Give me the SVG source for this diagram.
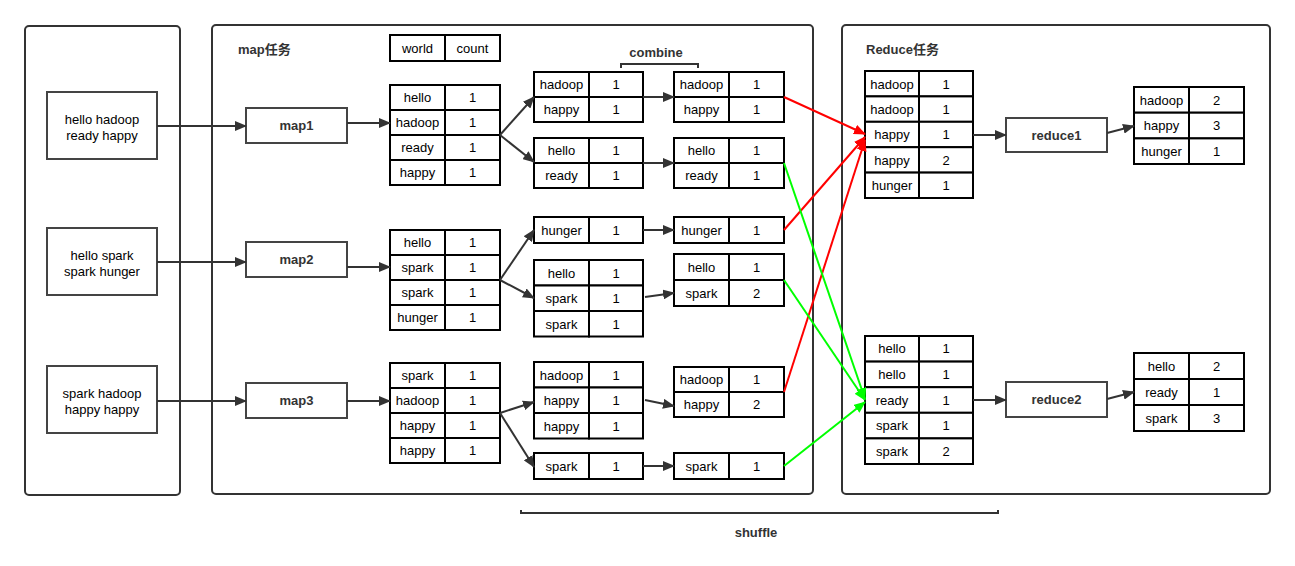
<svg xmlns="http://www.w3.org/2000/svg" width="1295" height="566" viewBox="0 0 1295 566">
<style>
text{font-family:"Liberation Sans","Noto Sans CJK SC",Arial,sans-serif;font-size:13px;fill:#000;text-anchor:middle}
.title{font-weight:bold;fill:#333;text-anchor:start}
.lbl{font-weight:bold;fill:#333}
.cont{fill:#fff;stroke:#333;stroke-width:2}
.box{fill:#fff;stroke:#444;stroke-width:2}
.cell{fill:#fff;stroke:#000;stroke-width:2}
.conn{fill:none;stroke:#333;stroke-width:2}
.red{fill:none;stroke:#f00;stroke-width:2}
.green{fill:none;stroke:#0f0;stroke-width:2}
</style>
<defs>
<marker id="ah" markerUnits="userSpaceOnUse" markerWidth="12" markerHeight="10" refX="11" refY="5" orient="auto"><path d="M0,0 L12,5 L0,10 z" fill="#333"/></marker>
<marker id="ahr" markerUnits="userSpaceOnUse" markerWidth="12" markerHeight="10" refX="11" refY="5" orient="auto"><path d="M0,0 L12,5 L0,10 z" fill="#f00"/></marker>
<marker id="ahg" markerUnits="userSpaceOnUse" markerWidth="12" markerHeight="10" refX="11" refY="5" orient="auto"><path d="M0,0 L12,5 L0,10 z" fill="#0f0"/></marker>
</defs>
<rect width="1295" height="566" fill="#fff"/>

<g id="containers">
<rect class="cont" x="25" y="26" width="155" height="469" rx="4"/>
<rect class="cont" x="212" y="25" width="601" height="469" rx="4"/>
<rect class="cont" x="842" y="25" width="428" height="469" rx="4"/>
<text class="title" x="238" y="54">map任务</text>
<text class="title" x="866" y="54">Reduce任务</text>
</g>

<g id="inputs">
<g id="in1"><rect class="box" x="47" y="92" width="110" height="67"/><text x="102" y="124">hello hadoop</text><text x="102" y="140">ready happy</text></g>
<g id="in2"><rect class="box" x="47" y="228" width="110" height="67"/><text x="102" y="260">hello spark</text><text x="102" y="276">spark hunger</text></g>
<g id="in3"><rect class="box" x="47" y="366" width="110" height="67"/><text x="102" y="398">spark hadoop</text><text x="102" y="414">happy happy</text></g>
</g>

<g id="maps">
<g id="map1"><rect class="box" x="246" y="108" width="101" height="35"/><text class="lbl" x="296.5" y="130">map1</text></g>
<g id="map2"><rect class="box" x="246" y="242" width="101" height="35"/><text class="lbl" x="296.5" y="264">map2</text></g>
<g id="map3"><rect class="box" x="246" y="383" width="101" height="35"/><text class="lbl" x="296.5" y="405">map3</text></g>
</g>

<g id="header">
<rect class="cell" x="390" y="35" width="55" height="26"/><rect class="cell" x="445" y="35" width="55" height="26"/>
<text x="417.5" y="52.5">world</text><text x="472.5" y="52.5">count</text>
</g>

<g id="t1">
<rect class="cell" x="390" y="85" width="55" height="25"/><rect class="cell" x="445" y="85" width="55" height="25"/>
<rect class="cell" x="390" y="110" width="55" height="25"/><rect class="cell" x="445" y="110" width="55" height="25"/>
<rect class="cell" x="390" y="135" width="55" height="25"/><rect class="cell" x="445" y="135" width="55" height="25"/>
<rect class="cell" x="390" y="160" width="55" height="25"/><rect class="cell" x="445" y="160" width="55" height="25"/>
<text x="417.5" y="102">hello</text><text x="472.5" y="102">1</text>
<text x="417.5" y="127">hadoop</text><text x="472.5" y="127">1</text>
<text x="417.5" y="152">ready</text><text x="472.5" y="152">1</text>
<text x="417.5" y="177">happy</text><text x="472.5" y="177">1</text>
</g>
<g id="t2">
<rect class="cell" x="390" y="230" width="55" height="25"/><rect class="cell" x="445" y="230" width="55" height="25"/>
<rect class="cell" x="390" y="255" width="55" height="25"/><rect class="cell" x="445" y="255" width="55" height="25"/>
<rect class="cell" x="390" y="280" width="55" height="25"/><rect class="cell" x="445" y="280" width="55" height="25"/>
<rect class="cell" x="390" y="305" width="55" height="25"/><rect class="cell" x="445" y="305" width="55" height="25"/>
<text x="417.5" y="247">hello</text><text x="472.5" y="247">1</text>
<text x="417.5" y="272">spark</text><text x="472.5" y="272">1</text>
<text x="417.5" y="297">spark</text><text x="472.5" y="297">1</text>
<text x="417.5" y="322">hunger</text><text x="472.5" y="322">1</text>
</g>
<g id="t3">
<rect class="cell" x="390" y="363" width="55" height="25"/><rect class="cell" x="445" y="363" width="55" height="25"/>
<rect class="cell" x="390" y="388" width="55" height="25"/><rect class="cell" x="445" y="388" width="55" height="25"/>
<rect class="cell" x="390" y="413" width="55" height="25"/><rect class="cell" x="445" y="413" width="55" height="25"/>
<rect class="cell" x="390" y="438" width="55" height="25"/><rect class="cell" x="445" y="438" width="55" height="25"/>
<text x="417.5" y="380">spark</text><text x="472.5" y="380">1</text>
<text x="417.5" y="405">hadoop</text><text x="472.5" y="405">1</text>
<text x="417.5" y="430">happy</text><text x="472.5" y="430">1</text>
<text x="417.5" y="455">happy</text><text x="472.5" y="455">1</text>
</g>

<g id="s1a">
<rect class="cell" x="534" y="72" width="55" height="25"/><rect class="cell" x="589" y="72" width="54" height="25"/>
<rect class="cell" x="534" y="97" width="55" height="25"/><rect class="cell" x="589" y="97" width="54" height="25"/>
<text x="561.5" y="89">hadoop</text><text x="616" y="89">1</text>
<text x="561.5" y="114">happy</text><text x="616" y="114">1</text>
</g>
<g id="s1b">
<rect class="cell" x="534" y="138" width="55" height="25"/><rect class="cell" x="589" y="138" width="54" height="25"/>
<rect class="cell" x="534" y="163" width="55" height="25"/><rect class="cell" x="589" y="163" width="54" height="25"/>
<text x="561.5" y="155">hello</text><text x="616" y="155">1</text>
<text x="561.5" y="180">ready</text><text x="616" y="180">1</text>
</g>
<g id="s2a">
<rect class="cell" x="534" y="217" width="55" height="26"/><rect class="cell" x="589" y="217" width="54" height="26"/>
<text x="561.5" y="234.5">hunger</text><text x="616" y="234.5">1</text>
</g>
<g id="s2b">
<rect class="cell" x="534" y="260" width="55" height="25.5"/><rect class="cell" x="589" y="260" width="54" height="25.5"/>
<rect class="cell" x="534" y="285.5" width="55" height="25.5"/><rect class="cell" x="589" y="285.5" width="54" height="25.5"/>
<rect class="cell" x="534" y="311" width="55" height="25.5"/><rect class="cell" x="589" y="311" width="54" height="25.5"/>
<text x="561.5" y="277.5">hello</text><text x="616" y="277.5">1</text>
<text x="561.5" y="303">spark</text><text x="616" y="303">1</text>
<text x="561.5" y="328.5">spark</text><text x="616" y="328.5">1</text>
</g>
<g id="s3a">
<rect class="cell" x="534" y="362" width="55" height="25.5"/><rect class="cell" x="589" y="362" width="54" height="25.5"/>
<rect class="cell" x="534" y="387.5" width="55" height="25.5"/><rect class="cell" x="589" y="387.5" width="54" height="25.5"/>
<rect class="cell" x="534" y="413" width="55" height="25.5"/><rect class="cell" x="589" y="413" width="54" height="25.5"/>
<text x="561.5" y="379.5">hadoop</text><text x="616" y="379.5">1</text>
<text x="561.5" y="405">happy</text><text x="616" y="405">1</text>
<text x="561.5" y="430.5">happy</text><text x="616" y="430.5">1</text>
</g>
<g id="s3b">
<rect class="cell" x="534" y="453" width="55" height="26"/><rect class="cell" x="589" y="453" width="54" height="26"/>
<text x="561.5" y="470.5">spark</text><text x="616" y="470.5">1</text>
</g>

<g id="combine-label">
<text class="lbl" x="656" y="57">combine</text>
<path class="conn" d="M621,68 V64 H698 V68"/>
</g>

<g id="c1a">
<rect class="cell" x="674" y="72" width="55" height="25"/><rect class="cell" x="729" y="72" width="55" height="25"/>
<rect class="cell" x="674" y="97" width="55" height="25"/><rect class="cell" x="729" y="97" width="55" height="25"/>
<text x="701.5" y="89">hadoop</text><text x="756.5" y="89">1</text>
<text x="701.5" y="114">happy</text><text x="756.5" y="114">1</text>
</g>
<g id="c1b">
<rect class="cell" x="674" y="138" width="55" height="25"/><rect class="cell" x="729" y="138" width="55" height="25"/>
<rect class="cell" x="674" y="163" width="55" height="25"/><rect class="cell" x="729" y="163" width="55" height="25"/>
<text x="701.5" y="155">hello</text><text x="756.5" y="155">1</text>
<text x="701.5" y="180">ready</text><text x="756.5" y="180">1</text>
</g>
<g id="c2a">
<rect class="cell" x="674" y="217" width="55" height="26"/><rect class="cell" x="729" y="217" width="55" height="26"/>
<text x="701.5" y="234.5">hunger</text><text x="756.5" y="234.5">1</text>
</g>
<g id="c2b">
<rect class="cell" x="674" y="254" width="55" height="26"/><rect class="cell" x="729" y="254" width="55" height="26"/>
<rect class="cell" x="674" y="280" width="55" height="26"/><rect class="cell" x="729" y="280" width="55" height="26"/>
<text x="701.5" y="271.5">hello</text><text x="756.5" y="271.5">1</text>
<text x="701.5" y="297.5">spark</text><text x="756.5" y="297.5">2</text>
</g>
<g id="c3a">
<rect class="cell" x="674" y="367" width="55" height="25"/><rect class="cell" x="729" y="367" width="55" height="25"/>
<rect class="cell" x="674" y="392" width="55" height="25"/><rect class="cell" x="729" y="392" width="55" height="25"/>
<text x="701.5" y="384">hadoop</text><text x="756.5" y="384">1</text>
<text x="701.5" y="409">happy</text><text x="756.5" y="409">2</text>
</g>
<g id="c3b">
<rect class="cell" x="674" y="453" width="55" height="26"/><rect class="cell" x="729" y="453" width="55" height="26"/>
<text x="701.5" y="470.5">spark</text><text x="756.5" y="470.5">1</text>
</g>

<g id="r1table">
<rect class="cell" x="865" y="71" width="54" height="25.4"/><rect class="cell" x="919" y="71" width="54" height="25.4"/>
<rect class="cell" x="865" y="96.4" width="54" height="25.4"/><rect class="cell" x="919" y="96.4" width="54" height="25.4"/>
<rect class="cell" x="865" y="121.8" width="54" height="25.4"/><rect class="cell" x="919" y="121.8" width="54" height="25.4"/>
<rect class="cell" x="865" y="147.2" width="54" height="25.4"/><rect class="cell" x="919" y="147.2" width="54" height="25.4"/>
<rect class="cell" x="865" y="172.6" width="54" height="25.4"/><rect class="cell" x="919" y="172.6" width="54" height="25.4"/>
<text x="892" y="88.5">hadoop</text><text x="946" y="88.5">1</text>
<text x="892" y="113.9">hadoop</text><text x="946" y="113.9">1</text>
<text x="892" y="139.3">happy</text><text x="946" y="139.3">1</text>
<text x="892" y="164.7">happy</text><text x="946" y="164.7">2</text>
<text x="892" y="190.1">hunger</text><text x="946" y="190.1">1</text>
</g>
<g id="r2table">
<rect class="cell" x="865" y="336" width="54" height="25.6"/><rect class="cell" x="919" y="336" width="54" height="25.6"/>
<rect class="cell" x="865" y="361.6" width="54" height="25.6"/><rect class="cell" x="919" y="361.6" width="54" height="25.6"/>
<rect class="cell" x="865" y="387.2" width="54" height="25.6"/><rect class="cell" x="919" y="387.2" width="54" height="25.6"/>
<rect class="cell" x="865" y="412.8" width="54" height="25.6"/><rect class="cell" x="919" y="412.8" width="54" height="25.6"/>
<rect class="cell" x="865" y="438.4" width="54" height="25.6"/><rect class="cell" x="919" y="438.4" width="54" height="25.6"/>
<text x="892" y="353.3">hello</text><text x="946" y="353.3">1</text>
<text x="892" y="378.9">hello</text><text x="946" y="378.9">1</text>
<text x="892" y="404.5">ready</text><text x="946" y="404.5">1</text>
<text x="892" y="430.1">spark</text><text x="946" y="430.1">1</text>
<text x="892" y="455.7">spark</text><text x="946" y="455.7">2</text>
</g>

<g id="reduce1"><rect class="box" x="1006" y="118" width="101" height="34"/><text class="lbl" x="1056.5" y="139.5">reduce1</text></g>
<g id="reduce2"><rect class="box" x="1006" y="382" width="101" height="35"/><text class="lbl" x="1056.5" y="404">reduce2</text></g>

<g id="o1">
<rect class="cell" x="1134" y="87" width="55" height="25.7"/><rect class="cell" x="1189" y="87" width="55" height="25.7"/>
<rect class="cell" x="1134" y="112.7" width="55" height="25.7"/><rect class="cell" x="1189" y="112.7" width="55" height="25.7"/>
<rect class="cell" x="1134" y="138.4" width="55" height="25.6"/><rect class="cell" x="1189" y="138.4" width="55" height="25.6"/>
<text x="1161.5" y="104.5">hadoop</text><text x="1216.5" y="104.5">2</text>
<text x="1161.5" y="130.2">happy</text><text x="1216.5" y="130.2">3</text>
<text x="1161.5" y="155.8">hunger</text><text x="1216.5" y="155.8">1</text>
</g>
<g id="o2">
<rect class="cell" x="1134" y="353" width="55" height="26"/><rect class="cell" x="1189" y="353" width="55" height="26"/>
<rect class="cell" x="1134" y="379" width="55" height="26"/><rect class="cell" x="1189" y="379" width="55" height="26"/>
<rect class="cell" x="1134" y="405" width="55" height="26"/><rect class="cell" x="1189" y="405" width="55" height="26"/>
<text x="1161.5" y="370.5">hello</text><text x="1216.5" y="370.5">2</text>
<text x="1161.5" y="396.5">ready</text><text x="1216.5" y="396.5">1</text>
<text x="1161.5" y="422.5">spark</text><text x="1216.5" y="422.5">3</text>
</g>

<g id="connectors">
<path class="conn" d="M157,126 H246" marker-end="url(#ah)"/>
<path class="conn" d="M157,262 H246" marker-end="url(#ah)"/>
<path class="conn" d="M157,401 H246" marker-end="url(#ah)"/>
<path class="conn" d="M347,123 H390" marker-end="url(#ah)"/>
<path class="conn" d="M347,267 H390" marker-end="url(#ah)"/>
<path class="conn" d="M347,401 H390" marker-end="url(#ah)"/>
<path class="conn" d="M500,135 L534,97" marker-end="url(#ah)"/>
<path class="conn" d="M500,135 L534,162" marker-end="url(#ah)"/>
<path class="conn" d="M500,280 L534,230" marker-end="url(#ah)"/>
<path class="conn" d="M500,280 L534,298" marker-end="url(#ah)"/>
<path class="conn" d="M500,413 L534,402" marker-end="url(#ah)"/>
<path class="conn" d="M500,413 L534,467" marker-end="url(#ah)"/>
<path class="conn" d="M643,97 H674" marker-end="url(#ah)"/>
<path class="conn" d="M643,163 H674" marker-end="url(#ah)"/>
<path class="conn" d="M643,230 H674" marker-end="url(#ah)"/>
<path class="conn" d="M645,297 L674,293" marker-end="url(#ah)"/>
<path class="conn" d="M645,400 L674,406" marker-end="url(#ah)"/>
<path class="conn" d="M643,466 H674" marker-end="url(#ah)"/>
<path class="red" d="M784,97 L865,134" marker-end="url(#ahr)"/>
<path class="red" d="M784,230 L865,137" marker-end="url(#ahr)"/>
<path class="red" d="M784,392 L865,140" marker-end="url(#ahr)"/>
<path class="green" d="M784,163 L865,399" marker-end="url(#ahg)"/>
<path class="green" d="M784,280 L865,400" marker-end="url(#ahg)"/>
<path class="green" d="M784,466 L865,402" marker-end="url(#ahg)"/>
<path class="conn" d="M973,135 H1006" marker-end="url(#ah)"/>
<path class="conn" d="M973,400 H1006" marker-end="url(#ah)"/>
<path class="conn" d="M1107,133 L1134,126" marker-end="url(#ah)"/>
<path class="conn" d="M1107,399 L1134,392" marker-end="url(#ah)"/>
</g>

<g id="shuffle">
<path class="conn" d="M521,510 V513 H998 V510"/>
<text class="lbl" x="756" y="537">shuffle</text>
</g>
</svg>
